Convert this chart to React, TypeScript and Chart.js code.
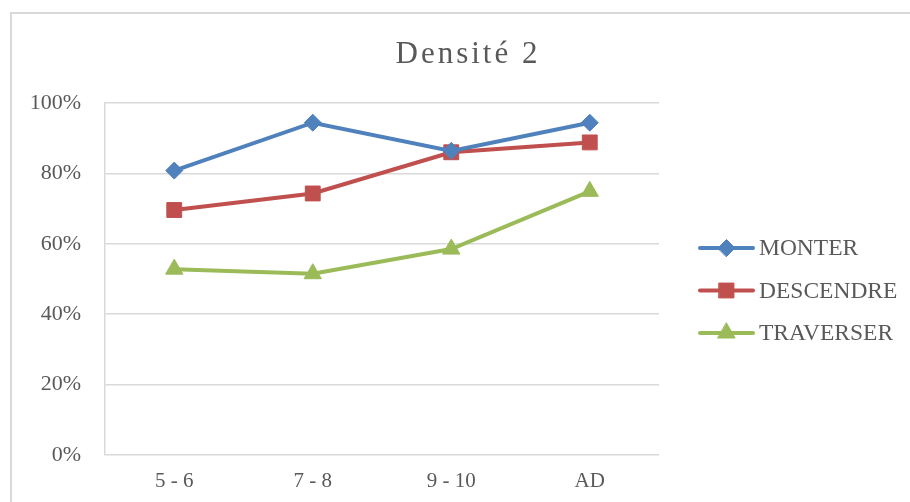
import React, { useEffect, useRef } from "react";
import { Chart, registerables } from "chart.js";
import { drawPoint } from "chart.js/helpers";

Chart.register(...registerables);

const titleText = "Densité 2";
const categories = ["5 - 6", "7 - 8", "9 - 10", "AD"];
const seriesNames = ["MONTER", "DESCENDRE", "TRAVERSER"];
const monter = [80.8, 94.4, 86.4, 94.4];
const descendre = [69.6, 74.3, 86.0, 88.8];
const traverser = [52.8, 51.5, 58.5, 74.9];
const yTickValues = [0, 20, 40, 60, 80, 100];

const colors = ["#4F81BD", "#C0504D", "#9BBB59"];
const styles = ["rectRot", "rect", "triangle"];
const radii = [8.5, 10.5, 10];
const TEXT = "#595959";
const GRID = "#D9D9D9";
const SERIF = '"Liberation Serif", "Times New Roman", serif';

const decorPlugin = {
  id: "decor",
  afterDraw(chart: any) {
    const ctx = chart.ctx as CanvasRenderingContext2D;
    const area = chart.chartArea;
    ctx.save();
    // Title
    ctx.fillStyle = TEXT;
    ctx.font = `31px ${SERIF}`;
    (ctx as any).letterSpacing = "3px";
    ctx.textAlign = "center";
    ctx.textBaseline = "alphabetic";
    ctx.fillText(titleText, 468, 63);
    (ctx as any).letterSpacing = "0px";

    // Legend
    const x0 = area.right + 41;
    const lineLen = 53;
    const yStart = 248;
    const step = 42.5;
    chart.data.datasets.forEach((ds: any, i: number) => {
      const y = yStart + i * step;
      ctx.strokeStyle = colors[i];
      ctx.lineWidth = 4;
      ctx.lineCap = "round";
      ctx.beginPath();
      ctx.moveTo(x0, y);
      ctx.lineTo(x0 + lineLen, y);
      ctx.stroke();
      ctx.fillStyle = colors[i];
      ctx.lineWidth = 1;
      drawPoint(
        ctx,
        { pointStyle: styles[i] as any, radius: radii[i], rotation: 0, borderWidth: 1 },
        x0 + lineLen / 2,
        y
      );
      ctx.fillStyle = TEXT;
      ctx.font = `23.5px ${SERIF}`;
      ctx.textAlign = "left";
      ctx.textBaseline = "middle";
      ctx.fillText(ds.label, x0 + lineLen + 6, y + 1);
    });
    ctx.restore();
  },
};

export default function App() {
  const ref = useRef<HTMLCanvasElement | null>(null);

  useEffect(() => {
    if (!ref.current) return;
    const seriesData = [monter, descendre, traverser];
    const chart = new Chart(ref.current, {
      type: "line",
      data: {
        labels: categories,
        datasets: seriesNames.map((name, i) => ({
          label: name,
          data: seriesData[i],
          borderColor: colors[i],
          backgroundColor: colors[i],
          borderWidth: 4,
          pointStyle: styles[i] as any,
          pointRadius: radii[i],
          pointBorderWidth: 1,
          pointBackgroundColor: colors[i],
          pointBorderColor: colors[i],
          tension: 0,
          fill: false,
        })),
      },
      options: {
        responsive: false,
        animation: false,
        layout: { padding: { left: 0, top: 103, right: 251, bottom: 0 } },
        plugins: {
          legend: { display: false },
          title: { display: false },
          tooltip: { enabled: false },
        },
        scales: {
          x: {
            offset: true,
            grid: { display: false, drawTicks: false },
            border: { display: false },
            ticks: {
              color: TEXT,
              font: { family: SERIF, size: 21 },
              padding: 14,
              maxRotation: 0,
            },
            afterFit: (s: any) => {
              s.height = 47;
            },
          },
          y: {
            min: 0,
            max: 100,
            afterBuildTicks: (s: any) => {
              s.ticks = yTickValues.map((v) => ({ value: v }));
            },
            grid: { color: GRID, lineWidth: 1.5, drawTicks: false },
            border: { display: true, color: GRID, width: 1.5 },
            ticks: {
              color: TEXT,
              font: { family: SERIF, size: 22 },
              padding: 24,
              callback: (v: any) => `${v}%`,
            },
            afterFit: (s: any) => {
              s.width = 105;
            },
          },
        },
      },
      plugins: [decorPlugin],
    });
    return () => chart.destroy();
  }, []);

  return (
    <div style={{ position: "absolute", left: 0, top: 0, width: 910, height: 502, background: "#fff", overflow: "hidden" }}>
      <div
        style={{
          position: "absolute",
          left: 10,
          top: 12,
          width: 910,
          height: 502,
          borderTop: `2px solid ${GRID}`,
          borderLeft: `2px solid ${GRID}`,
        }}
      />
      <canvas ref={ref} width={910} height={502} style={{ position: "absolute", left: 0, top: 0, width: 910, height: 502 }} />
    </div>
  );
}
